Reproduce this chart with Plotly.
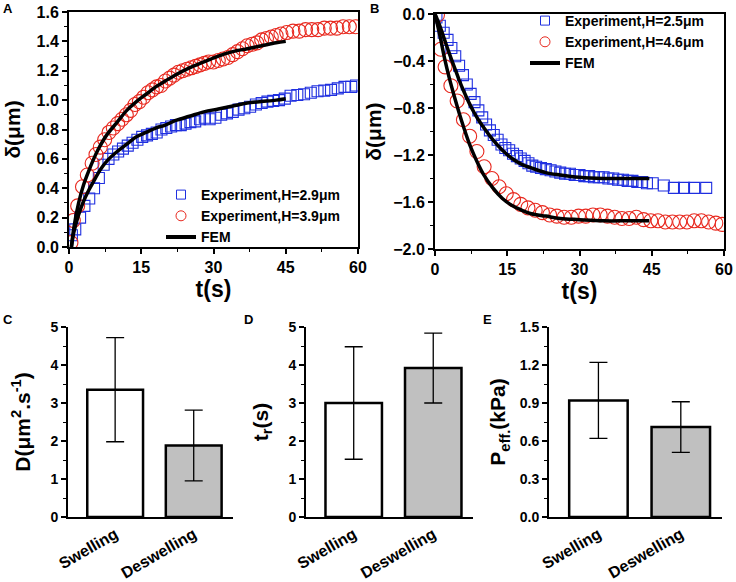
import plotly.graph_objects as go

# ---- Panel A: swelling (delta vs time) ----
a_sq_t = [0.6, 1.3, 2.3, 3.2, 4.2, 5.2, 6.2, 7.2, 8.2, 9.2, 10.2, 11.2, 12.2, 13.2, 14.2,
          15.2, 16.2, 17.2, 18.2, 19.2, 20.2, 21.2, 22.2, 23.2, 24.2, 25.2, 26.2, 27.2, 28.2,
          29.2, 30.4, 31.6, 32.8, 34.0, 35.2, 36.4, 37.6, 38.8, 40.0, 41.2, 42.4, 43.6, 44.8,
          46.0, 47.4, 48.8, 50.2, 51.6, 53.0, 54.4, 55.8, 57.2, 58.6, 59.6]
a_sq_d = [0.08, 0.12, 0.2, 0.28, 0.33, 0.4, 0.47, 0.56, 0.6, 0.63, 0.65, 0.67, 0.69, 0.71, 0.73,
          0.75, 0.76, 0.77, 0.78, 0.8, 0.81, 0.82, 0.83, 0.83, 0.84, 0.85, 0.855, 0.87, 0.88,
          0.87, 0.88, 0.9, 0.91, 0.92, 0.935, 0.945, 0.955, 0.97, 0.98, 0.99, 0.995, 1.0, 1.01,
          1.03, 1.035, 1.04, 1.05, 1.06, 1.065, 1.07, 1.08, 1.09, 1.09, 1.1]
a_ci_t = [0.4, 0.9, 1.8, 2.8, 3.8, 4.8, 5.6, 6.5, 7.4, 8.3, 9.2, 10.1, 11.0, 11.9, 12.8, 13.7,
          14.6, 15.5, 16.4, 17.3, 18.2, 19.1, 20.0, 20.9, 21.8, 22.7, 23.6, 24.5, 25.4, 26.3,
          27.2, 28.1, 29.0, 30.0, 31.0, 32.0, 33.0, 34.0, 35.0, 36.0, 37.0, 38.0, 39.0, 40.0,
          41.0, 42.0, 43.0, 44.0, 45.2, 46.5, 47.8, 49.1, 50.4, 51.7, 53.0, 54.3, 55.6, 56.9,
          58.2, 59.5]
a_ci_d = [0.03, 0.18, 0.28, 0.41, 0.49, 0.57, 0.63, 0.68, 0.73, 0.78, 0.81, 0.84, 0.87, 0.9,
          0.93, 0.97, 0.99, 1.02, 1.05, 1.07, 1.09, 1.1, 1.13, 1.15, 1.17, 1.19, 1.2, 1.21, 1.22,
          1.23, 1.24, 1.25, 1.26, 1.26, 1.27, 1.28, 1.29, 1.31, 1.33, 1.35, 1.37, 1.38, 1.39,
          1.41, 1.42, 1.43, 1.44, 1.45, 1.46, 1.47, 1.47, 1.48, 1.48, 1.48, 1.49, 1.49, 1.49,
          1.5, 1.5, 1.5]
a_fem_t = [0.5, 1, 2, 3, 4, 5, 6, 7, 8, 10, 12, 14, 16, 18, 20, 22, 25, 28, 31, 34, 37, 40, 43, 45]
a_fem_hi = [0, 0.13, 0.3, 0.42, 0.51, 0.59, 0.66, 0.72, 0.77, 0.85, 0.93, 0.99, 1.04, 1.09,
            1.13, 1.17, 1.22, 1.26, 1.3, 1.33, 1.35, 1.37, 1.39, 1.40]
a_fem_lo = [0, 0.1, 0.22, 0.31, 0.38, 0.44, 0.5, 0.55, 0.59, 0.65, 0.70, 0.75, 0.78, 0.81,
            0.83, 0.86, 0.89, 0.92, 0.94, 0.96, 0.98, 0.99, 1.0, 1.01]

# ---- Panel B: deswelling ----
b_sq_t = [0.3, 1.0, 1.8, 2.6, 3.4, 4.2, 5.0, 5.8, 6.6, 7.4, 8.2, 9.0, 9.8, 10.6, 11.4, 12.2,
          13.0, 13.8, 14.6, 15.4, 16.2, 17.0, 17.8, 18.6, 19.4, 20.2, 21.0, 22.0, 23.0, 24.0,
          25.0, 26.0, 27.0, 28.0, 29.0, 30.0, 31.0, 32.0, 33.0, 34.0, 35.0, 36.0, 37.0, 38.0,
          39.0, 40.0, 41.0, 42.0, 43.0, 44.0, 45.2, 47.5, 49.6, 51.7, 53.8, 56.3]
b_sq_d = [-0.03, -0.1, -0.16, -0.22, -0.29, -0.36, -0.44, -0.52, -0.6, -0.68, -0.75, -0.82,
          -0.88, -0.94, -0.99, -1.03, -1.07, -1.11, -1.14, -1.16, -1.19, -1.21, -1.23, -1.25,
          -1.27, -1.29, -1.3, -1.31, -1.32, -1.33, -1.34, -1.35, -1.36, -1.36, -1.37, -1.37,
          -1.38, -1.38, -1.39, -1.39, -1.39, -1.4, -1.4, -1.41, -1.41, -1.42, -1.42, -1.43,
          -1.43, -1.44, -1.44, -1.46, -1.48, -1.48, -1.48, -1.48]
b_ci_t = [0.5, 1.2, 2.1, 3.3, 4.6, 5.9, 7.2, 8.7, 10.2, 11.8, 13.3, 14.8, 16.3, 17.8, 19.3,
          20.8, 22.3, 23.8, 25.3, 26.8, 28.3, 29.8, 31.3, 32.8, 34.3, 35.8, 37.3, 38.8, 40.3,
          41.8, 43.3, 44.8, 46.3, 47.8, 49.3, 50.8, 52.3, 53.8, 55.3, 56.8, 58.3, 59.6]
b_ci_d = [-0.01, -0.3, -0.45, -0.61, -0.74, -0.9, -1.04, -1.17, -1.3, -1.4, -1.47, -1.53,
          -1.58, -1.62, -1.65, -1.67, -1.69, -1.71, -1.72, -1.73, -1.73, -1.72, -1.72, -1.71,
          -1.71, -1.72, -1.73, -1.74, -1.74, -1.73, -1.75, -1.76, -1.76, -1.77, -1.77, -1.77,
          -1.77, -1.76, -1.76, -1.77, -1.78, -1.79]
b_fem_t = [0, 1, 2, 3, 4, 5, 6, 7, 8, 9, 10, 12, 14, 16, 18, 20, 23, 26, 30, 35, 40, 44.5]
b_fem_thin = [0, -0.1, -0.22, -0.34, -0.45, -0.56, -0.66, -0.75, -0.83, -0.9, -0.96, -1.07,
              -1.16, -1.23, -1.28, -1.31, -1.35, -1.37, -1.39, -1.40, -1.40, -1.40]
b_fem_thick = [0, -0.18, -0.38, -0.55, -0.70, -0.84, -0.97, -1.09, -1.19, -1.28, -1.36, -1.48,
               -1.57, -1.63, -1.67, -1.70, -1.72, -1.74, -1.75, -1.76, -1.76, -1.76]

# ---- Panels C-E: bar charts ----
categories = ["Swelling", "Deswelling"]
diff_coef = [3.35, 1.88]
diff_err = [1.37, 0.93]
relax_time = [3.0, 3.92]
relax_err = [1.48, 0.92]
pressure = [0.92, 0.71]
pressure_err = [0.30, 0.20]
bar_fill = ["white", "#c0c0c0"]

FONT = "Liberation Sans, Arial, sans-serif"
BLUE = "#1f2fe0"
RED = "#e8281e"

fig = go.Figure()

# panel A
fig.add_trace(go.Scatter(x=a_sq_t, y=a_sq_d, mode="markers", showlegend=False,
                         marker=dict(symbol="square-open", size=11, color=BLUE, line=dict(width=1.1))))
fig.add_trace(go.Scatter(x=a_ci_t, y=a_ci_d, mode="markers", showlegend=False,
                         marker=dict(symbol="circle-open", size=14, color=RED, line=dict(width=1.1))))
fig.add_trace(go.Scatter(x=a_fem_t, y=a_fem_hi, mode="lines", showlegend=False,
                         line=dict(color="black", width=3.5, shape="spline")))
fig.add_trace(go.Scatter(x=a_fem_t, y=a_fem_lo, mode="lines", showlegend=False,
                         line=dict(color="black", width=3.5, shape="spline")))
fig.add_trace(go.Scatter(x=[None], y=[None], mode="markers", name="Experiment,H=2.9μm", legend="legend",
                         marker=dict(symbol="square-open", size=9, color=BLUE, line=dict(width=1))))
fig.add_trace(go.Scatter(x=[None], y=[None], mode="markers", name="Experiment,H=3.9μm", legend="legend",
                         marker=dict(symbol="circle-open", size=10, color=RED, line=dict(width=1))))
fig.add_trace(go.Scatter(x=[None], y=[None], mode="lines", name="FEM", legend="legend",
                         line=dict(color="black", width=4)))

# panel B
fig.add_trace(go.Scatter(x=b_sq_t, y=b_sq_d, mode="markers", showlegend=False, xaxis="x2", yaxis="y2",
                         marker=dict(symbol="square-open", size=11, color=BLUE, line=dict(width=1.1))))
fig.add_trace(go.Scatter(x=b_ci_t, y=b_ci_d, mode="markers", showlegend=False, xaxis="x2", yaxis="y2",
                         marker=dict(symbol="circle-open", size=14, color=RED, line=dict(width=1.1))))
fig.add_trace(go.Scatter(x=b_fem_t, y=b_fem_thin, mode="lines", showlegend=False, xaxis="x2", yaxis="y2",
                         line=dict(color="black", width=3.5, shape="spline")))
fig.add_trace(go.Scatter(x=b_fem_t, y=b_fem_thick, mode="lines", showlegend=False, xaxis="x2", yaxis="y2",
                         line=dict(color="black", width=3.5, shape="spline")))
fig.add_trace(go.Scatter(x=[None], y=[None], mode="markers", name="Experiment,H=2.5μm",
                         legend="legend2", legendgroup="b1", xaxis="x2", yaxis="y2",
                         marker=dict(symbol="square-open", size=9, color=BLUE, line=dict(width=1))))
fig.add_trace(go.Scatter(x=[None], y=[None], mode="markers", name="Experiment,H=4.6μm",
                         legend="legend2", legendgroup="b2", xaxis="x2", yaxis="y2",
                         marker=dict(symbol="circle-open", size=10, color=RED, line=dict(width=1))))
fig.add_trace(go.Scatter(x=[None], y=[None], mode="lines", name="FEM",
                         legend="legend2", legendgroup="b3", xaxis="x2", yaxis="y2",
                         line=dict(color="black", width=4)))

# panels C, D, E
for vals, errs, ax in [(diff_coef, diff_err, "3"), (relax_time, relax_err, "4"), (pressure, pressure_err, "5")]:
    fig.add_trace(go.Bar(x=categories, y=vals, width=0.71, showlegend=False,
                         xaxis="x" + ax, yaxis="y" + ax,
                         marker=dict(color=bar_fill, line=dict(color="black", width=2.5)),
                         error_y=dict(type="data", array=errs, color="black", thickness=1.3, width=9)))

tickfont = dict(family=FONT, size=16, color="black", weight="bold")
ytitlefont = dict(family=FONT, size=21, color="black", weight="bold")
xtitlefont = dict(family=FONT, size=23, color="black", weight="bold")


def line_axes(dom, rng, dtick, minor, fmt=None, title=None, standoff=8, tfont=ytitlefont):
    d = dict(domain=dom, range=rng, dtick=dtick, tick0=0, showline=True, linewidth=2,
             linecolor="black", mirror=True, ticks="outside", ticklen=5, tickwidth=1.5,
             tickcolor="black", showgrid=False, zeroline=False, tickfont=tickfont,
             ticklabeloverflow="allow",
             minor=dict(dtick=minor, ticks="outside", ticklen=3, tickwidth=1.2, tickcolor="black"),
             title=dict(text=title, font=tfont, standoff=standoff), automargin=False)
    if fmt:
        d["tickformat"] = fmt
    return d


def bar_y(dom, rng, dtick, minor, fmt, title, standoff):
    return dict(domain=dom, range=rng, dtick=dtick, tick0=0, tickformat=fmt, showline=True,
                linewidth=2, linecolor="black", ticks="outside", ticklen=5, tickwidth=1.5,
                tickcolor="black", showgrid=False, zeroline=False,
                tickfont=dict(family=FONT, size=14, color="black", weight="bold"),
                minor=dict(dtick=minor, ticks="outside", ticklen=3, tickwidth=1.2, tickcolor="black"),
                title=dict(text=title, font=ytitlefont, standoff=standoff), automargin=False)


def bar_x(dom, anchor):
    return dict(domain=dom, anchor=anchor, range=[-0.6, 1.5], showline=True, linewidth=2,
                linecolor="black", ticks="", showgrid=False, zeroline=False, tickangle=-30,
                tickfont=dict(family=FONT, size=16, color="black", weight="bold"), automargin=False)


W, H = 736, 582
yb = [1 - 517 / H, 1 - 327 / H]

fig.update_layout(
    width=W, height=H, template="none",
    margin=dict(l=0, r=0, t=0, b=0),
    paper_bgcolor="white", plot_bgcolor="white",
    font=dict(family=FONT, color="black"),
    xaxis=line_axes([69 / W, 358 / W], [0, 60], 15, 7.5, title="t(s)", standoff=2, tfont=xtitlefont),
    yaxis=line_axes([1 - 247 / H, 1 - 12 / H], [0, 1.6], 0.2, 0.1, ".1f", title="δ(μm)", standoff=10),
    xaxis2=dict(line_axes([435 / W, 724 / W], [0, 60], 15, 7.5, title="t(s)", standoff=2, tfont=xtitlefont),
                anchor="y2"),
    yaxis2=dict(line_axes([1 - 249 / H, 1 - 14 / H], [-2.0, 0.0], 0.4, 0.2, ".1f", title="δ(μm)", standoff=6),
                anchor="x2"),
    xaxis3=bar_x([68 / W, 233 / W], "y3"),
    yaxis3=dict(bar_y(yb, [0, 5], 1, 0.5, "d", "D(μm<sup>2</sup>.s<sup>-1</sup>)", 14), anchor="x3"),
    xaxis4=bar_x([306 / W, 473 / W], "y4"),
    yaxis4=dict(bar_y(yb, [0, 5], 1, 0.5, "d", "t<sub>r</sub>(s)", 14), anchor="x4"),
    xaxis5=bar_x([549 / W, 722 / W], "y5"),
    yaxis5=dict(bar_y(yb, [0, 1.5], 0.3, 0.15, ".1f", "P<sub>eff.</sub>(kPa)", 8), anchor="x5"),
    legend=dict(x=161 / W, y=1 - 179 / H, xanchor="left", yanchor="top", bgcolor="rgba(0,0,0,0)",
                font=dict(family=FONT, size=14, color="black", weight="bold")),
    legend2=dict(x=525 / W, y=1 - 5 / H, xanchor="left", yanchor="top", bgcolor="rgba(0,0,0,0)",
                 tracegroupgap=0,
                 font=dict(family=FONT, size=14, color="black", weight="bold")),
)

for label, px, py in [("A", 8, 9), ("B", 374, 9), ("C", 8, 319), ("D", 248, 319), ("E", 488, 319)]:
    fig.add_annotation(text=label, x=px / W, y=1 - py / H, xref="paper", yref="paper",
                       showarrow=False, xanchor="center", yanchor="middle",
                       font=dict(family=FONT, size=13, color="black", weight="bold"))

# the page's default body margin would push the figure 8px right and down
fig.write_html("out.html", config={"displayModeBar": False},
               post_script="document.body.style.margin = '0';")
